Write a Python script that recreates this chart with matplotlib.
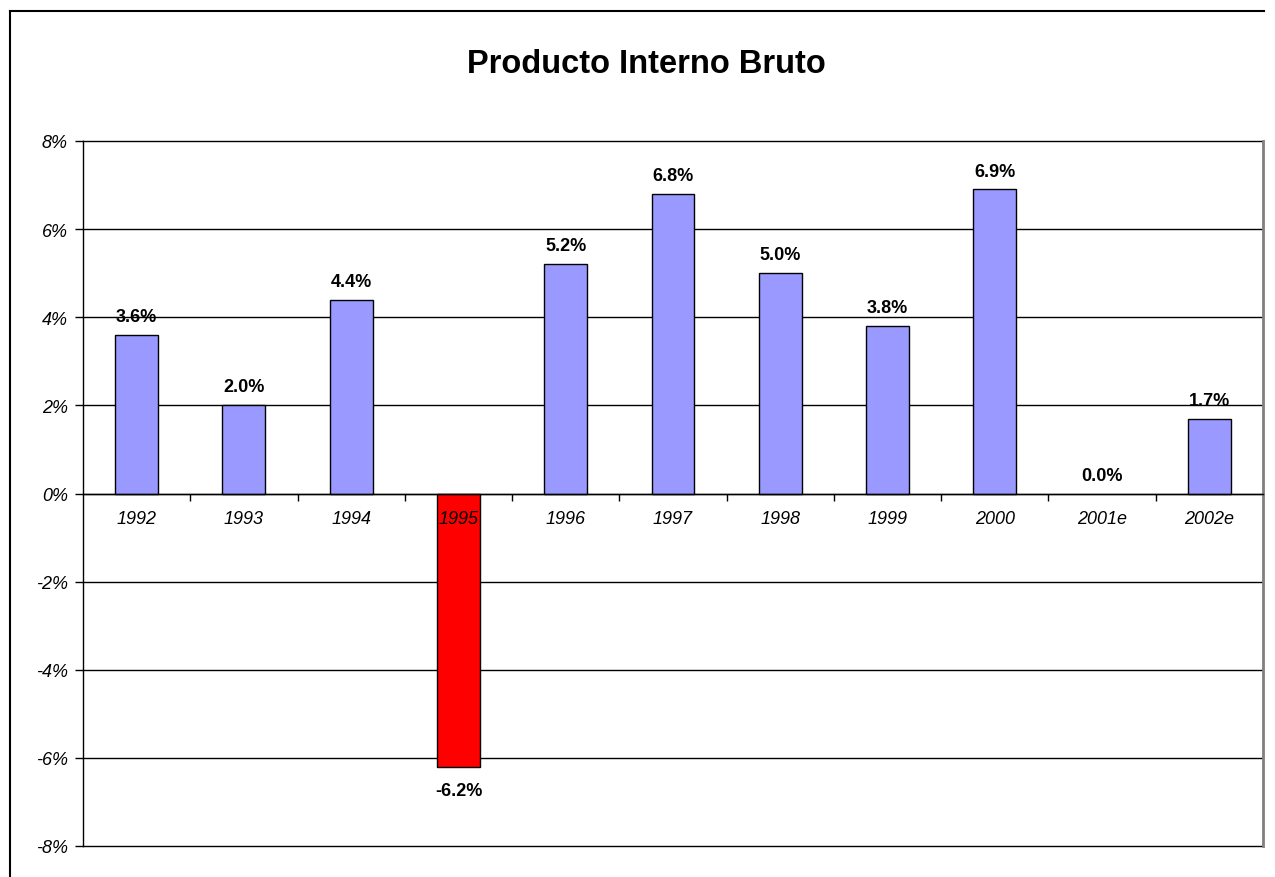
import matplotlib.pyplot as plt
from matplotlib.lines import Line2D

# ── data ──────────────────────────────────────────────────────────────────────
years = ["1992", "1993", "1994", "1995", "1996", "1997", "1998", "1999",
         "2000", "2001e", "2002e"]
pib = [3.6, 2.0, 4.4, -6.2, 5.2, 6.8, 5.0, 3.8, 6.9, 0.0, 1.7]
y_ticks = [-8, -6, -4, -2, 0, 2, 4, 6, 8]

plt.rcParams["font.family"] = ["Liberation Sans", "DejaVu Sans"]

W, H = 1275, 878
fig = plt.figure(figsize=(W / 100, H / 100), dpi=100)

# plot area in pixel terms (left 83, right 1263, top 142, bottom 847)
ax = fig.add_axes([83 / W, 1 - 847 / H, (1263 - 83) / W, (847 - 142) / H])

x = list(range(len(years)))
colors = ["#FF0000" if v < 0 else "#9999FF" for v in pib]
edges = ["none" if v == 0 else "black" for v in pib]
ax.bar(x, pib, width=0.4, color=colors, edgecolor=edges, linewidth=1, zorder=1)

# horizontal grid lines behind the bars
for t in y_ticks:
    ax.axhline(t, color="black", linewidth=1, zorder=0.5, clip_on=False)

ax.set_xlim(-0.5, len(years) - 0.5)
ax.set_ylim(-8, 8)

# value axis
ax.set_yticks(y_ticks)
ax.set_yticklabels([f"{t}%" for t in y_ticks], fontsize=13, style="italic")
ax.tick_params(axis="y", direction="out", length=6, width=1, pad=5)

# category axis sits on zero
ax.spines["bottom"].set_position(("data", 0))
ax.set_xticks(x)
ax.set_xticklabels(years, fontsize=13, style="italic")
ax.set_xticks([i + 0.5 for i in x[:-1]], minor=True)
ax.tick_params(axis="x", which="major", length=0, pad=12)
ax.tick_params(axis="x", which="minor", direction="out", length=5, width=1)

ax.spines["top"].set_visible(False)
ax.spines["right"].set_color("#808080")
ax.spines["right"].set_linewidth(2)
ax.spines["left"].set_linewidth(1)
ax.spines["bottom"].set_linewidth(1)

# data labels
for xi, v in zip(x, pib):
    if v < 0:
        ax.annotate(f"{v:.1f}%", (xi, v), xytext=(0, -11), textcoords="offset points",
                    ha="center", va="top", fontsize=13, fontweight="bold")
    else:
        ax.annotate(f"{v:.1f}%", (xi, v), xytext=(0, 10), textcoords="offset points",
                    ha="center", va="baseline", fontsize=13, fontweight="bold")

fig.text(0.507, 1 - 73 / H, "Producto Interno Bruto", ha="center", va="baseline",
         fontsize=23.5, fontweight="bold")

# chart frame (cropped at bottom in the original)
fig.add_artist(Line2D([10 / W, 10 / W], [0, 1 - 12 / H], transform=fig.transFigure,
                      color="black", linewidth=1.5))
fig.add_artist(Line2D([10 / W, 1264 / W], [1 - 12 / H, 1 - 12 / H], transform=fig.transFigure,
                      color="black", linewidth=1.5))

fig.savefig("out.png", dpi=100)
